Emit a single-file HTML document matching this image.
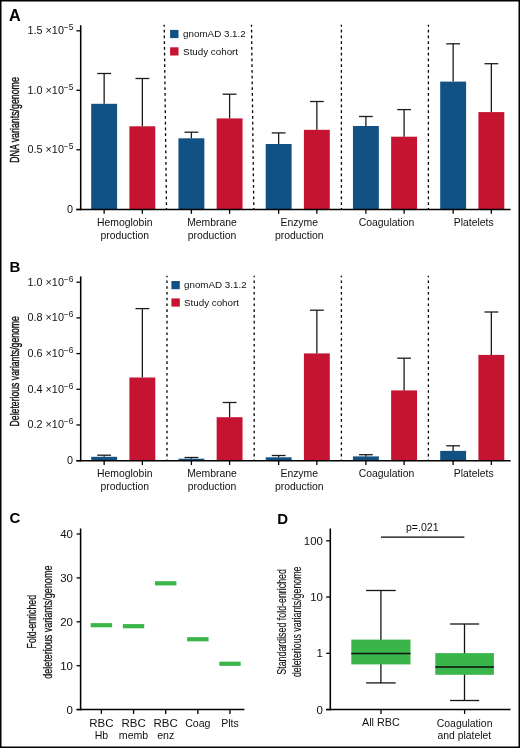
<!DOCTYPE html>
<html><head><meta charset="utf-8"><style>
html,body{margin:0;padding:0;background:#fff;}
svg{display:block;will-change:transform;font-family:"Liberation Sans", sans-serif;}
</style></head><body>
<svg width="520" height="748" viewBox="0 0 520 748">
<rect x="0.75" y="0.75" width="518.5" height="746.5" fill="#fff" stroke="#000" stroke-width="1.5"/>
<line x1="164.20" y1="24.80" x2="166.50" y2="209.50" stroke="#000" stroke-width="1.3" stroke-dasharray="2.6 3.15" stroke-dashoffset="0.75"/>
<line x1="251.50" y1="24.80" x2="253.80" y2="209.50" stroke="#000" stroke-width="1.3" stroke-dasharray="2.6 3.15" stroke-dashoffset="0.75"/>
<line x1="341.40" y1="24.80" x2="341.40" y2="209.50" stroke="#000" stroke-width="1.3" stroke-dasharray="2.6 3.15" stroke-dashoffset="0.75"/>
<line x1="428.40" y1="24.80" x2="428.40" y2="209.50" stroke="#000" stroke-width="1.3" stroke-dasharray="2.6 3.15" stroke-dashoffset="0.75"/>
<rect x="91.20" y="103.80" width="25.90" height="105.70" fill="#125183"/>
<line x1="104.15" y1="103.80" x2="104.15" y2="73.50" stroke="#1c1c1c" stroke-width="1.3" />
<line x1="97.25" y1="73.50" x2="111.05" y2="73.50" stroke="#1c1c1c" stroke-width="1.3" />
<rect x="129.40" y="126.30" width="25.90" height="83.20" fill="#c41431"/>
<line x1="142.35" y1="126.30" x2="142.35" y2="78.50" stroke="#1c1c1c" stroke-width="1.3" />
<line x1="135.45" y1="78.50" x2="149.25" y2="78.50" stroke="#1c1c1c" stroke-width="1.3" />
<rect x="178.45" y="138.30" width="25.90" height="71.20" fill="#125183"/>
<line x1="191.40" y1="138.30" x2="191.40" y2="132.20" stroke="#1c1c1c" stroke-width="1.3" />
<line x1="184.50" y1="132.20" x2="198.30" y2="132.20" stroke="#1c1c1c" stroke-width="1.3" />
<rect x="216.65" y="118.40" width="25.90" height="91.10" fill="#c41431"/>
<line x1="229.60" y1="118.40" x2="229.60" y2="94.20" stroke="#1c1c1c" stroke-width="1.3" />
<line x1="222.70" y1="94.20" x2="236.50" y2="94.20" stroke="#1c1c1c" stroke-width="1.3" />
<rect x="265.70" y="144.00" width="25.90" height="65.50" fill="#125183"/>
<line x1="278.65" y1="144.00" x2="278.65" y2="132.90" stroke="#1c1c1c" stroke-width="1.3" />
<line x1="271.75" y1="132.90" x2="285.55" y2="132.90" stroke="#1c1c1c" stroke-width="1.3" />
<rect x="303.90" y="129.80" width="25.90" height="79.70" fill="#c41431"/>
<line x1="316.85" y1="129.80" x2="316.85" y2="101.50" stroke="#1c1c1c" stroke-width="1.3" />
<line x1="309.95" y1="101.50" x2="323.75" y2="101.50" stroke="#1c1c1c" stroke-width="1.3" />
<rect x="352.95" y="126.00" width="25.90" height="83.50" fill="#125183"/>
<line x1="365.90" y1="126.00" x2="365.90" y2="116.50" stroke="#1c1c1c" stroke-width="1.3" />
<line x1="359.00" y1="116.50" x2="372.80" y2="116.50" stroke="#1c1c1c" stroke-width="1.3" />
<rect x="391.15" y="136.70" width="25.90" height="72.80" fill="#c41431"/>
<line x1="404.10" y1="136.70" x2="404.10" y2="109.60" stroke="#1c1c1c" stroke-width="1.3" />
<line x1="397.20" y1="109.60" x2="411.00" y2="109.60" stroke="#1c1c1c" stroke-width="1.3" />
<rect x="440.20" y="81.60" width="25.90" height="127.90" fill="#125183"/>
<line x1="453.15" y1="81.60" x2="453.15" y2="43.80" stroke="#1c1c1c" stroke-width="1.3" />
<line x1="446.25" y1="43.80" x2="460.05" y2="43.80" stroke="#1c1c1c" stroke-width="1.3" />
<rect x="478.40" y="112.10" width="25.90" height="97.40" fill="#c41431"/>
<line x1="491.35" y1="112.10" x2="491.35" y2="63.70" stroke="#1c1c1c" stroke-width="1.3" />
<line x1="484.45" y1="63.70" x2="498.25" y2="63.70" stroke="#1c1c1c" stroke-width="1.3" />
<line x1="80.70" y1="25.20" x2="80.70" y2="210.20" stroke="#000" stroke-width="1.55" />
<line x1="76.40" y1="209.50" x2="510.60" y2="209.50" stroke="#000" stroke-width="1.5" />
<line x1="76.40" y1="30.80" x2="80.70" y2="30.80" stroke="#000" stroke-width="1.3" />
<text x="63.9" y="34.30" font-size="10.8" text-anchor="end" fill="#111" textLength="36.4" lengthAdjust="spacingAndGlyphs">1.5 ×10</text><text x="73.4" y="30.20" font-size="8.4" text-anchor="end" fill="#111">−5</text>
<line x1="76.40" y1="90.30" x2="80.70" y2="90.30" stroke="#000" stroke-width="1.3" />
<text x="63.9" y="93.80" font-size="10.8" text-anchor="end" fill="#111" textLength="36.4" lengthAdjust="spacingAndGlyphs">1.0 ×10</text><text x="73.4" y="89.70" font-size="8.4" text-anchor="end" fill="#111">−5</text>
<line x1="76.40" y1="149.80" x2="80.70" y2="149.80" stroke="#000" stroke-width="1.3" />
<text x="63.9" y="153.30" font-size="10.8" text-anchor="end" fill="#111" textLength="36.4" lengthAdjust="spacingAndGlyphs">0.5 ×10</text><text x="73.4" y="149.20" font-size="8.4" text-anchor="end" fill="#111">−5</text>
<line x1="76.40" y1="209.50" x2="80.70" y2="209.50" stroke="#000" stroke-width="1.3" />
<text x="73.0" y="213.00" font-size="10.8" text-anchor="end" fill="#111">0</text>
<line x1="104.15" y1="209.50" x2="104.15" y2="213.80" stroke="#000" stroke-width="1.3" />
<line x1="142.35" y1="209.50" x2="142.35" y2="213.80" stroke="#000" stroke-width="1.3" />
<line x1="191.40" y1="209.50" x2="191.40" y2="213.80" stroke="#000" stroke-width="1.3" />
<line x1="229.60" y1="209.50" x2="229.60" y2="213.80" stroke="#000" stroke-width="1.3" />
<line x1="278.65" y1="209.50" x2="278.65" y2="213.80" stroke="#000" stroke-width="1.3" />
<line x1="316.85" y1="209.50" x2="316.85" y2="213.80" stroke="#000" stroke-width="1.3" />
<line x1="365.90" y1="209.50" x2="365.90" y2="213.80" stroke="#000" stroke-width="1.3" />
<line x1="404.10" y1="209.50" x2="404.10" y2="213.80" stroke="#000" stroke-width="1.3" />
<line x1="453.15" y1="209.50" x2="453.15" y2="213.80" stroke="#000" stroke-width="1.3" />
<line x1="491.35" y1="209.50" x2="491.35" y2="213.80" stroke="#000" stroke-width="1.3" />
<text x="124.75" y="226.20" font-size="10.4" text-anchor="middle" font-weight="normal" fill="#111" >Hemoglobin</text>
<text x="124.75" y="238.70" font-size="10.4" text-anchor="middle" font-weight="normal" fill="#111" >production</text>
<text x="212.00" y="226.20" font-size="10.4" text-anchor="middle" font-weight="normal" fill="#111" >Membrane</text>
<text x="212.00" y="238.70" font-size="10.4" text-anchor="middle" font-weight="normal" fill="#111" >production</text>
<text x="299.25" y="226.20" font-size="10.4" text-anchor="middle" font-weight="normal" fill="#111" >Enzyme</text>
<text x="299.25" y="238.70" font-size="10.4" text-anchor="middle" font-weight="normal" fill="#111" >production</text>
<text x="386.50" y="226.20" font-size="10.4" text-anchor="middle" font-weight="normal" fill="#111" >Coagulation</text>
<text x="473.75" y="226.20" font-size="10.4" text-anchor="middle" font-weight="normal" fill="#111" >Platelets</text>
<rect x="170.10" y="29.90" width="8.40" height="8.20" fill="#125183"/>
<rect x="170.10" y="47.30" width="8.40" height="8.20" fill="#c41431"/>
<text x="183.10" y="37.20" font-size="9.8" text-anchor="start" font-weight="normal" fill="#111" >gnomAD 3.1.2</text>
<text x="183.10" y="54.70" font-size="9.8" text-anchor="start" font-weight="normal" fill="#111" >Study cohort</text>
<line x1="167.00" y1="275.80" x2="167.00" y2="460.65" stroke="#000" stroke-width="1.3" stroke-dasharray="2.6 3.18" stroke-dashoffset="1.18"/>
<line x1="254.20" y1="275.80" x2="254.20" y2="460.65" stroke="#000" stroke-width="1.3" stroke-dasharray="2.6 3.18" stroke-dashoffset="1.18"/>
<line x1="341.40" y1="275.80" x2="341.40" y2="460.65" stroke="#000" stroke-width="1.3" stroke-dasharray="2.6 3.18" stroke-dashoffset="1.18"/>
<line x1="428.40" y1="275.80" x2="428.40" y2="460.65" stroke="#000" stroke-width="1.3" stroke-dasharray="2.6 3.18" stroke-dashoffset="1.18"/>
<rect x="91.20" y="456.80" width="25.90" height="3.85" fill="#125183"/>
<line x1="104.15" y1="456.80" x2="104.15" y2="455.20" stroke="#1c1c1c" stroke-width="1.3" />
<line x1="97.25" y1="455.20" x2="111.05" y2="455.20" stroke="#1c1c1c" stroke-width="1.3" />
<rect x="129.40" y="377.50" width="25.90" height="83.15" fill="#c41431"/>
<line x1="142.35" y1="377.50" x2="142.35" y2="308.60" stroke="#1c1c1c" stroke-width="1.3" />
<line x1="135.45" y1="308.60" x2="149.25" y2="308.60" stroke="#1c1c1c" stroke-width="1.3" />
<rect x="178.45" y="458.70" width="25.90" height="1.95" fill="#125183"/>
<line x1="191.40" y1="458.70" x2="191.40" y2="457.50" stroke="#1c1c1c" stroke-width="1.3" />
<line x1="184.50" y1="457.50" x2="198.30" y2="457.50" stroke="#1c1c1c" stroke-width="1.3" />
<rect x="216.65" y="417.20" width="25.90" height="43.45" fill="#c41431"/>
<line x1="229.60" y1="417.20" x2="229.60" y2="402.50" stroke="#1c1c1c" stroke-width="1.3" />
<line x1="222.70" y1="402.50" x2="236.50" y2="402.50" stroke="#1c1c1c" stroke-width="1.3" />
<rect x="265.70" y="457.30" width="25.90" height="3.35" fill="#125183"/>
<line x1="278.65" y1="457.30" x2="278.65" y2="455.50" stroke="#1c1c1c" stroke-width="1.3" />
<line x1="271.75" y1="455.50" x2="285.55" y2="455.50" stroke="#1c1c1c" stroke-width="1.3" />
<rect x="303.90" y="353.40" width="25.90" height="107.25" fill="#c41431"/>
<line x1="316.85" y1="353.40" x2="316.85" y2="310.20" stroke="#1c1c1c" stroke-width="1.3" />
<line x1="309.95" y1="310.20" x2="323.75" y2="310.20" stroke="#1c1c1c" stroke-width="1.3" />
<rect x="352.95" y="456.40" width="25.90" height="4.25" fill="#125183"/>
<line x1="365.90" y1="456.40" x2="365.90" y2="454.70" stroke="#1c1c1c" stroke-width="1.3" />
<line x1="359.00" y1="454.70" x2="372.80" y2="454.70" stroke="#1c1c1c" stroke-width="1.3" />
<rect x="391.15" y="390.40" width="25.90" height="70.25" fill="#c41431"/>
<line x1="404.10" y1="390.40" x2="404.10" y2="358.20" stroke="#1c1c1c" stroke-width="1.3" />
<line x1="397.20" y1="358.20" x2="411.00" y2="358.20" stroke="#1c1c1c" stroke-width="1.3" />
<rect x="440.20" y="450.90" width="25.90" height="9.75" fill="#125183"/>
<line x1="453.15" y1="450.90" x2="453.15" y2="445.80" stroke="#1c1c1c" stroke-width="1.3" />
<line x1="446.25" y1="445.80" x2="460.05" y2="445.80" stroke="#1c1c1c" stroke-width="1.3" />
<rect x="478.40" y="354.90" width="25.90" height="105.75" fill="#c41431"/>
<line x1="491.35" y1="354.90" x2="491.35" y2="312.00" stroke="#1c1c1c" stroke-width="1.3" />
<line x1="484.45" y1="312.00" x2="498.25" y2="312.00" stroke="#1c1c1c" stroke-width="1.3" />
<line x1="80.70" y1="276.40" x2="80.70" y2="461.35" stroke="#000" stroke-width="1.55" />
<line x1="76.40" y1="460.65" x2="510.60" y2="460.65" stroke="#000" stroke-width="1.5" />
<line x1="76.40" y1="282.20" x2="80.70" y2="282.20" stroke="#000" stroke-width="1.3" />
<text x="63.9" y="285.70" font-size="10.8" text-anchor="end" fill="#111" textLength="36.4" lengthAdjust="spacingAndGlyphs">1.0 ×10</text><text x="73.4" y="281.60" font-size="8.4" text-anchor="end" fill="#111">−6</text>
<line x1="76.40" y1="317.89" x2="80.70" y2="317.89" stroke="#000" stroke-width="1.3" />
<text x="63.9" y="321.39" font-size="10.8" text-anchor="end" fill="#111" textLength="36.4" lengthAdjust="spacingAndGlyphs">0.8 ×10</text><text x="73.4" y="317.29" font-size="8.4" text-anchor="end" fill="#111">−6</text>
<line x1="76.40" y1="353.58" x2="80.70" y2="353.58" stroke="#000" stroke-width="1.3" />
<text x="63.9" y="357.08" font-size="10.8" text-anchor="end" fill="#111" textLength="36.4" lengthAdjust="spacingAndGlyphs">0.6 ×10</text><text x="73.4" y="352.98" font-size="8.4" text-anchor="end" fill="#111">−6</text>
<line x1="76.40" y1="389.27" x2="80.70" y2="389.27" stroke="#000" stroke-width="1.3" />
<text x="63.9" y="392.77" font-size="10.8" text-anchor="end" fill="#111" textLength="36.4" lengthAdjust="spacingAndGlyphs">0.4 ×10</text><text x="73.4" y="388.67" font-size="8.4" text-anchor="end" fill="#111">−6</text>
<line x1="76.40" y1="424.96" x2="80.70" y2="424.96" stroke="#000" stroke-width="1.3" />
<text x="63.9" y="428.46" font-size="10.8" text-anchor="end" fill="#111" textLength="36.4" lengthAdjust="spacingAndGlyphs">0.2 ×10</text><text x="73.4" y="424.36" font-size="8.4" text-anchor="end" fill="#111">−6</text>
<line x1="76.40" y1="460.65" x2="80.70" y2="460.65" stroke="#000" stroke-width="1.3" />
<text x="73.0" y="464.15" font-size="10.8" text-anchor="end" fill="#111">0</text>
<line x1="104.15" y1="460.65" x2="104.15" y2="464.95" stroke="#000" stroke-width="1.3" />
<line x1="142.35" y1="460.65" x2="142.35" y2="464.95" stroke="#000" stroke-width="1.3" />
<line x1="191.40" y1="460.65" x2="191.40" y2="464.95" stroke="#000" stroke-width="1.3" />
<line x1="229.60" y1="460.65" x2="229.60" y2="464.95" stroke="#000" stroke-width="1.3" />
<line x1="278.65" y1="460.65" x2="278.65" y2="464.95" stroke="#000" stroke-width="1.3" />
<line x1="316.85" y1="460.65" x2="316.85" y2="464.95" stroke="#000" stroke-width="1.3" />
<line x1="365.90" y1="460.65" x2="365.90" y2="464.95" stroke="#000" stroke-width="1.3" />
<line x1="404.10" y1="460.65" x2="404.10" y2="464.95" stroke="#000" stroke-width="1.3" />
<line x1="453.15" y1="460.65" x2="453.15" y2="464.95" stroke="#000" stroke-width="1.3" />
<line x1="491.35" y1="460.65" x2="491.35" y2="464.95" stroke="#000" stroke-width="1.3" />
<text x="124.75" y="477.35" font-size="10.4" text-anchor="middle" font-weight="normal" fill="#111" >Hemoglobin</text>
<text x="124.75" y="489.85" font-size="10.4" text-anchor="middle" font-weight="normal" fill="#111" >production</text>
<text x="212.00" y="477.35" font-size="10.4" text-anchor="middle" font-weight="normal" fill="#111" >Membrane</text>
<text x="212.00" y="489.85" font-size="10.4" text-anchor="middle" font-weight="normal" fill="#111" >production</text>
<text x="299.25" y="477.35" font-size="10.4" text-anchor="middle" font-weight="normal" fill="#111" >Enzyme</text>
<text x="299.25" y="489.85" font-size="10.4" text-anchor="middle" font-weight="normal" fill="#111" >production</text>
<text x="386.50" y="477.35" font-size="10.4" text-anchor="middle" font-weight="normal" fill="#111" >Coagulation</text>
<text x="473.75" y="477.35" font-size="10.4" text-anchor="middle" font-weight="normal" fill="#111" >Platelets</text>
<rect x="171.40" y="281.00" width="8.40" height="8.20" fill="#125183"/>
<rect x="171.40" y="298.40" width="8.40" height="8.20" fill="#c41431"/>
<text x="184.00" y="288.20" font-size="9.8" text-anchor="start" font-weight="normal" fill="#111" >gnomAD 3.1.2</text>
<text x="184.00" y="305.50" font-size="9.8" text-anchor="start" font-weight="normal" fill="#111" >Study cohort</text>
<text transform="translate(18.90,120.00) rotate(-90)" x="0" y="0" font-size="13.2" text-anchor="middle" fill="#111" stroke="#111" stroke-width="0.4" textLength="85.7" lengthAdjust="spacingAndGlyphs">DNA variants/genome</text>
<text transform="translate(18.90,371.25) rotate(-90)" x="0" y="0" font-size="13.2" text-anchor="middle" fill="#111" stroke="#111" stroke-width="0.4" textLength="110.3" lengthAdjust="spacingAndGlyphs">Deleterious variants/genome</text>
<text x="9.10" y="20.80" font-size="16.2" text-anchor="start" font-weight="bold" fill="#000" >A</text>
<text x="9.60" y="271.60" font-size="15" text-anchor="start" font-weight="bold" fill="#000" >B</text>
<text x="9.50" y="523.40" font-size="15" text-anchor="start" font-weight="bold" fill="#000" >C</text>
<text x="277.20" y="523.50" font-size="15" text-anchor="start" font-weight="bold" fill="#000" >D</text>
<line x1="80.60" y1="528.50" x2="80.60" y2="710.30" stroke="#000" stroke-width="1.55" />
<line x1="76.60" y1="709.60" x2="244.40" y2="709.60" stroke="#000" stroke-width="1.5" />
<line x1="76.60" y1="709.60" x2="80.60" y2="709.60" stroke="#000" stroke-width="1.3" />
<text x="73.0" y="713.60" font-size="10.4" text-anchor="end" fill="#111" textLength="6.36" lengthAdjust="spacingAndGlyphs">0</text>
<line x1="76.60" y1="665.70" x2="80.60" y2="665.70" stroke="#000" stroke-width="1.3" />
<text x="73.0" y="669.70" font-size="10.4" text-anchor="end" fill="#111" textLength="12.72" lengthAdjust="spacingAndGlyphs">10</text>
<line x1="76.60" y1="621.80" x2="80.60" y2="621.80" stroke="#000" stroke-width="1.3" />
<text x="73.0" y="625.80" font-size="10.4" text-anchor="end" fill="#111" textLength="12.72" lengthAdjust="spacingAndGlyphs">20</text>
<line x1="76.60" y1="577.90" x2="80.60" y2="577.90" stroke="#000" stroke-width="1.3" />
<text x="73.0" y="581.90" font-size="10.4" text-anchor="end" fill="#111" textLength="12.72" lengthAdjust="spacingAndGlyphs">30</text>
<line x1="76.60" y1="534.00" x2="80.60" y2="534.00" stroke="#000" stroke-width="1.3" />
<text x="73.0" y="538.00" font-size="10.4" text-anchor="end" fill="#111" textLength="12.72" lengthAdjust="spacingAndGlyphs">40</text>
<line x1="101.40" y1="709.60" x2="101.40" y2="713.90" stroke="#000" stroke-width="1.3" />
<rect x="90.70" y="623.10" width="21.40" height="4.20" fill="#3ab54a"/>
<text x="101.40" y="726.60" font-size="10.8" text-anchor="middle" font-weight="normal" fill="#111" textLength="24.3" lengthAdjust="spacingAndGlyphs">RBC</text>
<text x="101.40" y="738.90" font-size="10.6" text-anchor="middle" font-weight="normal" fill="#111" >Hb</text>
<line x1="133.55" y1="709.60" x2="133.55" y2="713.90" stroke="#000" stroke-width="1.3" />
<rect x="122.85" y="624.10" width="21.40" height="4.20" fill="#3ab54a"/>
<text x="133.55" y="726.60" font-size="10.8" text-anchor="middle" font-weight="normal" fill="#111" textLength="24.3" lengthAdjust="spacingAndGlyphs">RBC</text>
<text x="133.55" y="738.90" font-size="10.6" text-anchor="middle" font-weight="normal" fill="#111" >memb</text>
<line x1="165.70" y1="709.60" x2="165.70" y2="713.90" stroke="#000" stroke-width="1.3" />
<rect x="155.00" y="581.20" width="21.40" height="4.20" fill="#3ab54a"/>
<text x="165.70" y="726.60" font-size="10.8" text-anchor="middle" font-weight="normal" fill="#111" textLength="24.3" lengthAdjust="spacingAndGlyphs">RBC</text>
<text x="165.70" y="738.90" font-size="10.6" text-anchor="middle" font-weight="normal" fill="#111" >enz</text>
<line x1="197.85" y1="709.60" x2="197.85" y2="713.90" stroke="#000" stroke-width="1.3" />
<rect x="187.15" y="637.15" width="21.40" height="4.20" fill="#3ab54a"/>
<text x="197.85" y="726.90" font-size="10.6" text-anchor="middle" font-weight="normal" fill="#111" >Coag</text>
<line x1="230.00" y1="709.60" x2="230.00" y2="713.90" stroke="#000" stroke-width="1.3" />
<rect x="219.30" y="661.65" width="21.40" height="4.20" fill="#3ab54a"/>
<text x="230.00" y="726.90" font-size="10.6" text-anchor="middle" font-weight="normal" fill="#111" >Plts</text>
<text transform="translate(36.00,621.70) rotate(-90)" x="0" y="0" font-size="13.0" text-anchor="middle" fill="#111" stroke="#111" stroke-width="0.25" textLength="53.4" lengthAdjust="spacingAndGlyphs">Fold-enriched</text>
<text transform="translate(52.00,622.20) rotate(-90)" x="0" y="0" font-size="13.0" text-anchor="middle" fill="#111" stroke="#111" stroke-width="0.25" textLength="113.2" lengthAdjust="spacingAndGlyphs">deleterious variants/genome</text>
<line x1="330.30" y1="528.50" x2="330.30" y2="710.30" stroke="#000" stroke-width="1.55" />
<line x1="326.20" y1="709.60" x2="510.50" y2="709.60" stroke="#000" stroke-width="1.5" />
<line x1="326.20" y1="540.80" x2="330.30" y2="540.80" stroke="#000" stroke-width="1.3" />
<text x="322.9" y="544.80" font-size="10.4" text-anchor="end" fill="#111" textLength="19.08" lengthAdjust="spacingAndGlyphs">100</text>
<line x1="326.20" y1="597.00" x2="330.30" y2="597.00" stroke="#000" stroke-width="1.3" />
<text x="322.9" y="601.00" font-size="10.4" text-anchor="end" fill="#111" textLength="12.72" lengthAdjust="spacingAndGlyphs">10</text>
<line x1="326.20" y1="653.30" x2="330.30" y2="653.30" stroke="#000" stroke-width="1.3" />
<text x="322.9" y="657.30" font-size="10.4" text-anchor="end" fill="#111" textLength="6.36" lengthAdjust="spacingAndGlyphs">1</text>
<line x1="326.20" y1="709.60" x2="330.30" y2="709.60" stroke="#000" stroke-width="1.3" />
<text x="322.9" y="713.60" font-size="10.4" text-anchor="end" fill="#111" textLength="6.36" lengthAdjust="spacingAndGlyphs">0</text>
<line x1="381.00" y1="709.60" x2="381.00" y2="713.90" stroke="#000" stroke-width="1.3" />
<line x1="464.60" y1="709.60" x2="464.60" y2="713.90" stroke="#000" stroke-width="1.3" />
<line x1="380.90" y1="590.50" x2="380.90" y2="682.90" stroke="#141414" stroke-width="1.3" />
<line x1="366.10" y1="590.50" x2="395.70" y2="590.50" stroke="#141414" stroke-width="1.3" />
<line x1="366.10" y1="682.90" x2="395.70" y2="682.90" stroke="#141414" stroke-width="1.3" />
<rect x="351.30" y="639.60" width="59.20" height="24.80" fill="#3ab54a"/>
<line x1="351.30" y1="653.50" x2="410.50" y2="653.50" stroke="#0d0d0d" stroke-width="1.35" />
<line x1="464.50" y1="624.00" x2="464.50" y2="700.50" stroke="#141414" stroke-width="1.3" />
<line x1="450.10" y1="624.00" x2="479.10" y2="624.00" stroke="#141414" stroke-width="1.3" />
<line x1="450.10" y1="700.50" x2="479.10" y2="700.50" stroke="#141414" stroke-width="1.3" />
<rect x="435.30" y="653.10" width="58.60" height="21.70" fill="#3ab54a"/>
<line x1="435.30" y1="667.00" x2="493.90" y2="667.00" stroke="#0d0d0d" stroke-width="1.35" />
<line x1="381.00" y1="537.10" x2="464.40" y2="537.10" stroke="#000" stroke-width="1.4" />
<text x="422.30" y="531.40" font-size="10.2" text-anchor="middle" font-weight="normal" fill="#111" textLength="32.6" lengthAdjust="spacingAndGlyphs">p=.021</text>
<text x="380.90" y="726.30" font-size="10.8" text-anchor="middle" font-weight="normal" fill="#111" >All RBC</text>
<text x="464.60" y="726.70" font-size="10.45" text-anchor="middle" font-weight="normal" fill="#111" >Coagulation</text>
<text x="464.40" y="738.60" font-size="10.4" text-anchor="middle" font-weight="normal" fill="#111" >and platelet</text>
<text transform="translate(286.00,621.90) rotate(-90)" x="0" y="0" font-size="13.6" text-anchor="middle" fill="#111" stroke="#111" stroke-width="0.15" textLength="105.6" lengthAdjust="spacingAndGlyphs">Standardised fold-enriched</text>
<text transform="translate(301.40,621.85) rotate(-90)" x="0" y="0" font-size="13.6" text-anchor="middle" fill="#111" stroke="#111" stroke-width="0.15" textLength="110.5" lengthAdjust="spacingAndGlyphs">deleterious variants/genome</text>
</svg>
</body></html>
